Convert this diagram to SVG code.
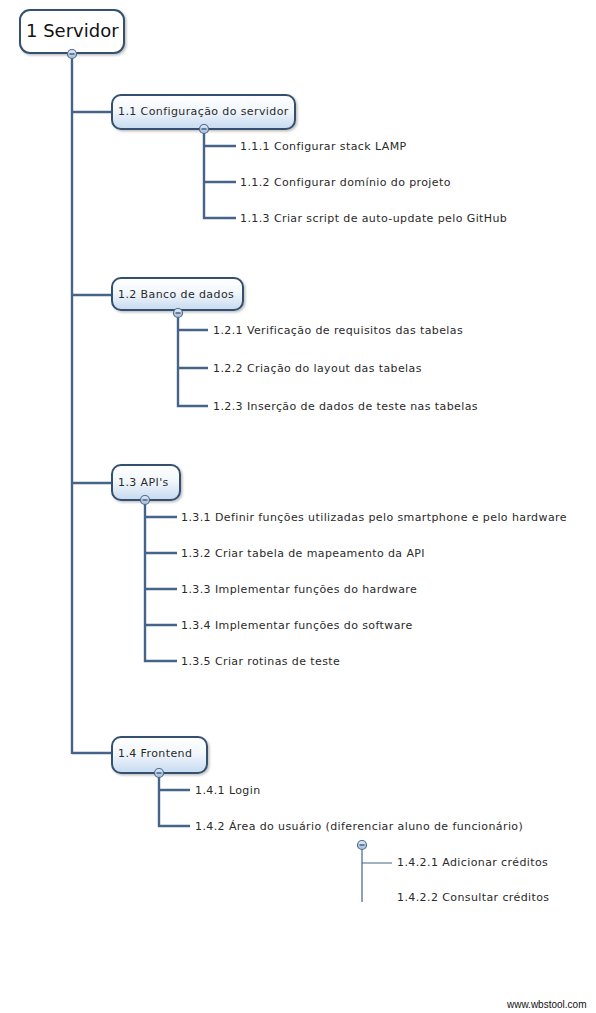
<svg xmlns="http://www.w3.org/2000/svg" width="596" height="1013" viewBox="0 0 596 1013">
<defs>
<linearGradient id="g" x1="0" y1="0" x2="0" y2="1">
<stop offset="0" stop-color="#ffffff"/>
<stop offset="0.45" stop-color="#f2f7fc"/>
<stop offset="1" stop-color="#c6daf0"/>
</linearGradient>
<linearGradient id="cg" x1="0" y1="0" x2="0" y2="1">
<stop offset="0" stop-color="#e6eef8"/>
<stop offset="1" stop-color="#9fb8d6"/>
</linearGradient>
<filter id="sh" x="-10%" y="-10%" width="130%" height="140%">
<feDropShadow dx="1.5" dy="1.5" stdDeviation="1" flood-color="#000" flood-opacity="0.25"/>
</filter>
<g id="col">
<circle cx="0" cy="0" r="4.5" fill="url(#cg)" stroke="#4a6a90" stroke-width="1.2"/>
<line x1="-2.5" y1="0" x2="2.5" y2="0" stroke="#34506e" stroke-width="1.3"/>
</g>
</defs>
<style>
.ln{stroke:#46648a;stroke-width:2.4;fill:none}
.thin{stroke:#46648a;stroke-width:1.2;fill:none}
.box{fill:url(#g);stroke:#34506e;stroke-width:2}
.root{fill:#ffffff;stroke:#34506e;stroke-width:2}
text{font-family:"DejaVu Sans","Liberation Sans",sans-serif;font-size:11px;letter-spacing:0.4px;fill:#2a2a2a}
.rt{font-size:18px;letter-spacing:0;fill:#111}
.wm{font-family:"Liberation Sans",Arial,sans-serif;font-size:10px;letter-spacing:0;fill:#111}
</style>
<rect width="596" height="1013" fill="#ffffff"/>
<g id="connectors">
<path class="ln" d="M72 58 V754 M72 112 H112 M72 295 H112 M72 483 H112 M72 753 H112"/>
<path class="ln" d="M204 133 V218 H236 M204 146 H236 M204 182 H236"/>
<path class="ln" d="M178 317 V406 H208 M178 330 H208 M178 368 H208"/>
<path class="ln" d="M145 504 V661 H177 M145 517 H177 M145 553 H177 M145 589 H177 M145 625 H177"/>
<path class="ln" d="M159 777 V826 H190 M159 790 H190"/>
<path class="thin" d="M362 848 V902 M362 863 H392"/>
</g>
<g id="n1">
<rect class="root" x="20" y="10" width="104" height="43" rx="10" filter="url(#sh)"/>
<text class="rt" x="26" y="37">1 Servidor</text>
<use href="#col" x="72" y="54"/>
</g>
<g id="n1_1">
<rect class="box" x="112" y="95" width="183" height="34" rx="9" filter="url(#sh)"/>
<text x="118" y="115">1.1 Configuração do servidor</text>
<use href="#col" x="204" y="129"/>
</g>
<g id="n1_1_1"><text x="240" y="150">1.1.1 Configurar stack LAMP</text></g>
<g id="n1_1_2"><text x="240" y="186">1.1.2 Configurar domínio do projeto</text></g>
<g id="n1_1_3"><text x="240" y="222">1.1.3 Criar script de auto-update pelo GitHub</text></g>
<g id="n1_2">
<rect class="box" x="112" y="278" width="131" height="32" rx="9" filter="url(#sh)"/>
<text x="118" y="298">1.2 Banco de dados</text>
<use href="#col" x="178" y="313"/>
</g>
<g id="n1_2_1"><text x="213" y="334">1.2.1 Verificação de requisitos das tabelas</text></g>
<g id="n1_2_2"><text x="213" y="372">1.2.2 Criação do layout das tabelas</text></g>
<g id="n1_2_3"><text x="213" y="410">1.2.3 Inserção de dados de teste nas tabelas</text></g>
<g id="n1_3">
<rect class="box" x="112" y="465" width="68" height="35" rx="9" filter="url(#sh)"/>
<text x="118" y="486">1.3 API's</text>
<use href="#col" x="145" y="500"/>
</g>
<g id="n1_3_1"><text x="181" y="521">1.3.1 Definir funções utilizadas pelo smartphone e pelo hardware</text></g>
<g id="n1_3_2"><text x="181" y="557">1.3.2 Criar tabela de mapeamento da API</text></g>
<g id="n1_3_3"><text x="181" y="593">1.3.3 Implementar funções do hardware</text></g>
<g id="n1_3_4"><text x="181" y="629">1.3.4 Implementar funções do software</text></g>
<g id="n1_3_5"><text x="181" y="665">1.3.5 Criar rotinas de teste</text></g>
<g id="n1_4">
<rect class="box" x="112" y="737" width="95" height="36" rx="9" filter="url(#sh)"/>
<text x="118" y="757">1.4 Frontend</text>
<use href="#col" x="159" y="773"/>
</g>
<g id="n1_4_1"><text x="195" y="794">1.4.1 Login</text></g>
<g id="n1_4_2">
<text x="195" y="830">1.4.2 Área do usuário (diferenciar aluno de funcionário)</text>
<use href="#col" x="362" y="845"/>
</g>
<g id="n1_4_2_1"><text x="397" y="866">1.4.2.1 Adicionar créditos</text></g>
<g id="n1_4_2_2"><text x="397" y="901">1.4.2.2 Consultar créditos</text></g>
<text class="wm" x="507" y="1008">www.wbstool.com</text>
</svg>
